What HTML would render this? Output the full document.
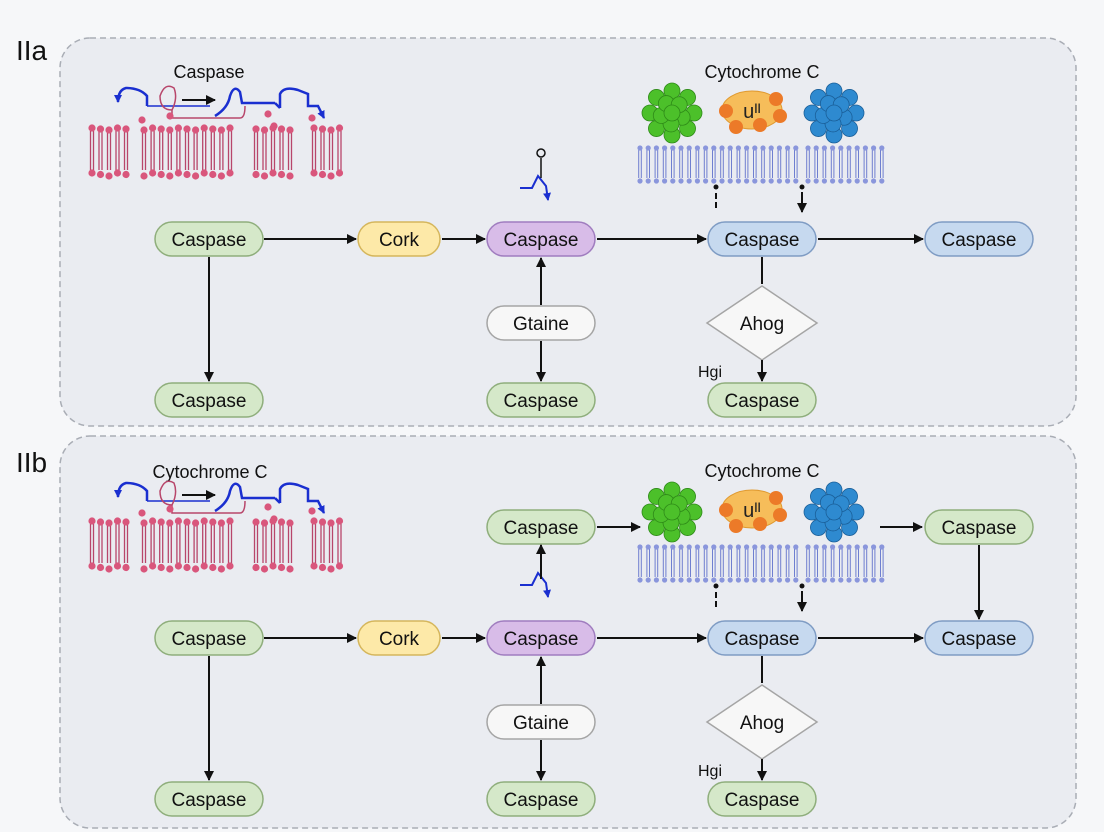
<!DOCTYPE html>
<html><head><meta charset="utf-8"><style>
html,body{margin:0;padding:0;background:#f6f7f9;}
svg{display:block;font-family:"Liberation Sans",sans-serif;}
</style></head><body>
<svg id="s" width="1104" height="832" viewBox="0 0 1104 832" xmlns="http://www.w3.org/2000/svg">
<defs>
<marker id="ah" markerWidth="10" markerHeight="10" refX="9" refY="5" orient="auto" markerUnits="userSpaceOnUse"><path d="M0,0 L10,5 L0,10 z" fill="#111"/></marker>
<marker id="bh" markerWidth="8" markerHeight="8" refX="7" refY="4" orient="auto" markerUnits="userSpaceOnUse"><path d="M0,0 L8,4 L0,8 z" fill="#1a2fd0"/></marker>
</defs>
<rect x="0" y="0" width="1104" height="832" fill="#f6f7f9"/>
<rect x="60" y="38" width="1016" height="388" rx="30" fill="#eaecf1" stroke="#a9adb5" stroke-width="1.5" stroke-dasharray="6,4"/>
<rect x="60" y="436" width="1016" height="392" rx="30" fill="#eaecf1" stroke="#a9adb5" stroke-width="1.5" stroke-dasharray="6,4"/>
<text x="16" y="60" font-size="28" fill="#111">IIa</text>
<text x="16" y="472" font-size="28" fill="#111">IIb</text>
<g id="g"></g>
</svg>
<script>
const g=document.getElementById('g');const NS='http://www.w3.org/2000/svg';
function el(t,a,txt){const e=document.createElementNS(NS,t);for(const k in a)e.setAttribute(k,a[k]);if(txt)e.textContent=txt;g.appendChild(e);return e;}
const C={g:['#d5e8c9','#8fae7c'],y:['#fde9a8','#d5b65c'],p:['#d8bce8','#a07dbf'],b:['#c6d9ef','#7f9cc4'],w:['#f7f7f7','#a5a5a5']};
function node(cx,cy,w,c,t){el('rect',{x:cx-w/2,y:cy-17,width:w,height:34,rx:17,fill:C[c][0],stroke:C[c][1],'stroke-width':1.5});el('text',{x:cx,y:cy+7,'font-size':19,'text-anchor':'middle',fill:'#111'},t);}
function ar(x1,y1,x2,y2,m=true){const a={x1,y1,x2,y2,stroke:'#111','stroke-width':2};if(m)a['marker-end']='url(#ah)';el('line',a);}
function membraneRed(x0,y0){
 const xs=[];for(let i=0;i<5;i++)xs.push(x0+i*8.5);for(let i=0;i<11;i++)xs.push(x0+52+i*8.6);for(let i=0;i<5;i++)xs.push(x0+164+i*8.5);for(let i=0;i<4;i++)xs.push(x0+222+i*8.5);
 xs.forEach((x,i)=>{const j=(i*7)%3;el('line',{x1:x-1.5,y1:y0+3,x2:x-1.5,y2:y0+42,stroke:'#b8466b','stroke-width':1.3});el('line',{x1:x+1.5,y1:y0+3,x2:x+1.5,y2:y0+42,stroke:'#b8466b','stroke-width':1.3});
 el('circle',{cx:x,cy:y0+j,r:3.6,fill:'#d9567c'});el('circle',{cx:x,cy:y0+45+j*1.5,r:3.6,fill:'#d9567c'});});
 [[x0+50,y0-8],[x0+78,y0-12],[x0+176,y0-14],[x0+220,y0-10],[x0+182,y0-2]].forEach(p=>el('circle',{cx:p[0],cy:p[1],r:3.6,fill:'#d9567c'}));
}
function signals(x0,y0){
 const b='#1a2fd0';
 el('path',{d:`M${x0+37},${y0+18} L${x0+37},${y0+8} Q${x0+30},${y0} ${x0+16},${y0} Q${x0+8},${y0+2} ${x0+8},${y0+14}`,fill:'none',stroke:b,'stroke-width':2.5,'marker-end':'url(#bh)'});
 el('line',{x1:x0+37,y1:y0+18,x2:x0+100,y2:y0+18,stroke:b,'stroke-width':1.5});
 el('path',{d:`M${x0+62},${y0+22} Q${x0+50},${y0+22} ${x0+50},${y0+8} Q${x0+55},${y0-6} ${x0+64},${y0} Q${x0+68},${y0+10} ${x0+62},${y0+22} L${x0+62},${y0+30} L${x0+130},${y0+30} Q${x0+135},${y0+30} ${x0+135},${y0+18}`,fill:'none',stroke:'#b8466b','stroke-width':1.5});
 ar(x0+72,y0+12,x0+105,y0+12);
 el('path',{d:`M${x0+105},${y0+28} Q${x0+118},${y0+20} ${x0+120},${y0+8} Q${x0+124},${y0-4} ${x0+130},${y0+4} L${x0+132},${y0+15} L${x0+165},${y0+15}`,fill:'none',stroke:b,'stroke-width':2.5});
 el('path',{d:`M${x0+170},${y0+20} L${x0+170},${y0+6} Q${x0+174},${y0-2} ${x0+188},${y0+2} L${x0+198},${y0+6} L${x0+198},${y0+18} L${x0+208},${y0+18} L${x0+214},${y0+30}`,fill:'none',stroke:b,'stroke-width':2.5,'marker-end':'url(#bh)'});
 el('path',{d:`M${x0+165},${y0+15} L${x0+170},${y0+20}`,stroke:b,'stroke-width':2.5});
}
function membraneBlue(x0,y0){
 for(let i=0;i<30;i++){const x=x0+i*8.2+(i>19?4:0);el('line',{x1:x-1.3,y1:y0+2,x2:x-1.3,y2:y0+30,stroke:'#6f7fd0','stroke-width':1});el('line',{x1:x+1.3,y1:y0+2,x2:x+1.3,y2:y0+30,stroke:'#6f7fd0','stroke-width':1});
 el('circle',{cx:x,cy:y0,r:2.6,fill:'#8a96dc'});el('circle',{cx:x,cy:y0+33,r:2.6,fill:'#8a96dc'});}
}
function blob(cx,cy,col,dark){
 const pts=[];for(let i=0;i<8;i++){const a=i/8*6.283;pts.push([cx+Math.cos(a)*22,cy+Math.sin(a)*22]);}
 for(let i=0;i<5;i++){const a=i/5*6.283+0.4;pts.push([cx+Math.cos(a)*11,cy+Math.sin(a)*11]);}
 pts.push([cx,cy]);
 pts.forEach(p=>el('circle',{cx:p[0],cy:p[1],r:8,fill:col,stroke:dark,'stroke-width':0.8}));}
function molecules(y){
 blob(672,y,'#4cc02a','#2e8a18');blob(834,y,'#2e8ad0','#1a5f99');
 el('ellipse',{cx:752,cy:y-3,rx:30,ry:19,fill:'#f6bd5a',stroke:'#e09a30'});
 [[726,y-2],[736,y+14],[760,y+12],[780,y+3],[776,y-14]].forEach(p=>el('circle',{cx:p[0],cy:p[1],r:7,fill:'#ec7a28'}));
 el('text',{x:752,y:y+5,'font-size':20,'text-anchor':'middle',fill:'#222'},'u\u1D35\u1D35');
}
function panel(o,b){
 if(!b){el('text',{x:209,y:78,'font-size':18,'text-anchor':'middle',fill:'#111'},'Caspase');}
 else{el('text',{x:210,y:478,'font-size':18,'text-anchor':'middle',fill:'#111'},'Cytochrome C');}
 signals(110,o+92-4+(b?-4:0));
 membraneRed(92,o+128+(b?-6:0));
 el('text',{x:762,y:o+78,'font-size':18,'text-anchor':'middle',fill:'#111'},'Cytochrome C');
 molecules(o+113);
 membraneBlue(640,o+148);
 el('circle',{cx:716,cy:o+187,r:2.5,fill:'#111'});el('line',{x1:716,y1:o+193,x2:716,y2:o+210,stroke:'#111','stroke-width':2,'stroke-dasharray':'6,3'});
 el('circle',{cx:802,cy:o+187,r:2.5,fill:'#111'});ar(802,o+192,802,o+212);
 const y=o+239;
 node(209,y,108,'g','Caspase');node(399,y,82,'y','Cork');node(541,y,108,'p','Caspase');node(762,y,108,'b','Caspase');node(979,y,108,'b','Caspase');
 ar(264,y,356,y);ar(442,y,485,y);ar(597,y,706,y);ar(818,y,923,y);
 node(209,o+400,108,'g','Caspase');ar(209,y+18,209,o+381);
 node(541,o+323,108,'w','Gtaine');ar(541,o+305,541,y+19);ar(541,o+341,541,o+381);node(541,o+400,108,'g','Caspase');
 el('line',{x1:762,y1:y+18,x2:762,y2:o+284,stroke:'#111','stroke-width':2});
 el('path',{d:`M762,${o+286} L817,${o+323} L762,${o+360} L707,${o+323} z`,fill:'#f7f7f7',stroke:'#a5a5a5','stroke-width':1.5});
 el('text',{x:762,y:o+330,'font-size':19,'text-anchor':'middle',fill:'#111'},'Ahog');
 ar(762,o+360,762,o+381);node(762,o+400,108,'g','Caspase');
 el('text',{x:698,y:o+377,'font-size':16,fill:'#111'},'Hgi');
 const sy=b?o+170:o+172;
 el('path',{d:`M520,${sy+16} L532,${sy+16} L538,${sy+4} L546,${sy+14} L548,${sy+28}`,fill:'none',stroke:'#1a2fd0','stroke-width':2,'marker-end':'url(#bh)'});
 if(!b){el('line',{x1:541,y1:o+158,x2:541,y2:sy+6,stroke:'#111','stroke-width':1.5});el('circle',{cx:541,cy:o+153,r:4,fill:'none',stroke:'#111','stroke-width':1.5});}
 else{node(541,o+128,108,'g','Caspase');ar(541,o+180,541,o+146);node(979,o+128,108,'g','Caspase');ar(597,o+128,640,o+128);ar(880,o+128,922,o+128);ar(979,o+146,979,y-19);}
}
panel(0,false);panel(399,true);
</script>
</body></html>
